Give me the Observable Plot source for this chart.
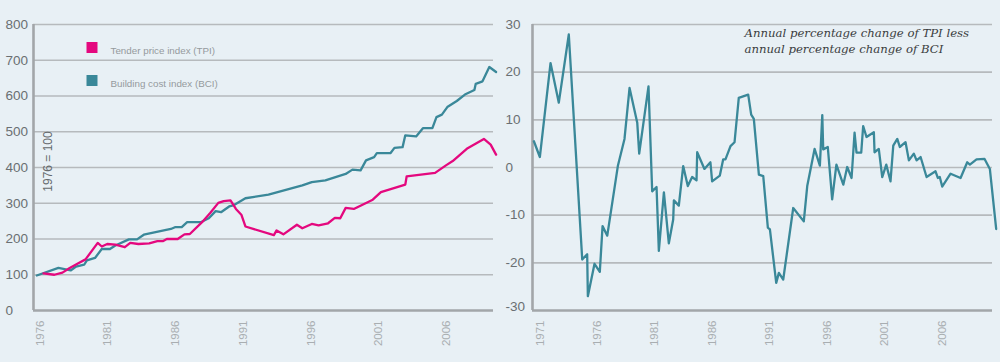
<!DOCTYPE html>
<html>
<head>
<meta charset="utf-8">
<script src="https://cdn.jsdelivr.net/npm/d3@7"></script>
<script src="https://cdn.jsdelivr.net/npm/@observablehq/plot@0.6"></script>
<style>
  html, body { margin: 0; padding: 0; background: #e8f0f5; }
  #wrap { display: flex; width: 1000px; height: 362px; background: #e8f0f5; }
  #wrap svg { display: block; }
</style>
</head>
<body>
<div id="wrap"><div id="left"></div><div id="right"></div></div>
<script>
// ---------- Data ----------
const bciYear = [1976.0,1977.6,1978.5,1978.9,1979.5,1979.7,1980.3,1980.8,1981.4,1981.8,1982.8,1983.4,1983.9,1985.9,1986.2,1986.7,1987.1,1988.1,1988.7,1989.2,1989.6,1990.2,1990.5,1991.4,1993.1,1995.6,1996.3,1997.3,1998.8,1999.3,1999.9,2000.3,2000.9,2001.1,2002.1,2002.4,2003.0,2003.2,2004.0,2004.5,2005.2,2005.5,2005.9,2006.3,2007.0,2007.6,2008.3,2008.4,2008.9,2009.4,2009.9];
const bciValue = [98,119,112,123,128,140,147,172,172,182,199,199,212,228,233,233,247,247,258,278,275,291,294,314,324,350,359,364,382,394,392,420,429,440,440,455,457,490,487,510,510,541,548,569,586,604,617,634,641,681,667];

const tpiYear = [1976.5,1977.3,1977.9,1978.4,1979.0,1979.6,1980.5,1980.8,1981.2,1981.8,1982.5,1982.9,1983.5,1984.3,1984.9,1985.3,1985.6,1986.4,1986.9,1987.3,1988.2,1988.8,1989.4,1989.8,1990.3,1990.7,1991.1,1991.4,1993.5,1993.7,1994.2,1995.2,1995.6,1996.3,1996.8,1997.5,1998.0,1998.4,1998.8,1999.4,2000.8,2001.4,2003.2,2003.3,2005.4,2006.2,2006.7,2007.8,2009.0,2009.5,2009.9];
const tpiValue = [104,100,106,118,131,143,189,179,186,184,177,189,186,188,194,194,200,200,213,214,247,273,301,306,308,284,268,235,211,224,213,240,230,242,238,244,259,258,287,284,310,331,352,375,385,406,418,454,480,464,436];

const diffYear = [1970.16,1970.68,1971.61,1972.33,1973.2,1974.37,1974.8,1974.86,1975.44,1975.9,1976.14,1976.55,1977.47,1978.05,1978.49,1979.16,1979.33,1980.14,1980.46,1980.84,1981.04,1981.48,1981.91,1982.29,1982.35,1982.78,1983.16,1983.56,1983.94,1984.32,1984.38,1985.01,1985.53,1985.68,1986.35,1986.64,1986.84,1987.28,1987.63,1988.0,1988.82,1989.08,1989.31,1989.75,1990.13,1990.53,1990.71,1991.26,1991.49,1991.87,1992.74,1993.66,1993.96,1994.6,1995.06,1995.27,1995.35,1995.75,1996.13,1996.5,1997.1,1997.44,1997.82,1998.08,1998.25,1998.66,1998.83,1999.12,1999.76,1999.82,2000.19,2000.49,2000.84,2001.21,2001.45,2001.8,2002.02,2002.52,2002.81,2003.24,2003.48,2003.83,2004.35,2005.13,2005.33,2005.5,2005.71,2006.44,2007.31,2007.89,2008.12,2008.7,2009.4,2009.86,2010.41];
const diffValue = [5.5,2.2,21.9,13.6,27.9,-19.3,-18.2,-27.0,-20.2,-21.9,-12.3,-14.3,0.3,6.0,16.7,9.4,2.9,17.0,-5.0,-4.1,-17.5,-5.2,-15.9,-10.9,-6.9,-8.0,0.3,-3.9,-2.0,-2.7,3.2,-0.3,1.1,-2.9,-1.7,1.7,1.7,4.5,5.3,14.6,15.3,11.1,10.2,-1.5,-1.8,-12.6,-13.0,-24.2,-22.1,-23.5,-8.5,-11.3,-3.9,3.9,0.4,11.0,3.8,4.3,-6.7,0.6,-3.6,0.1,-2.2,7.3,3.1,3.1,8.7,6.4,7.4,3.2,3.9,-2.0,0.6,-2.9,4.6,6.0,4.3,5.3,1.5,2.9,1.5,2.2,-2.0,-0.8,-2.2,-2.0,-4.0,-1.3,-2.2,1.1,0.6,1.7,1.8,-0.3,-12.9];

const leftYTicks = [0,100,200,300,400,500,600,700,800];
const leftXTicks = [1976,1981,1986,1991,1996,2001,2006];
const rightYTicks = [-30,-20,-10,0,10,20,30];
const rightXTicks = [1971,1976,1981,1986,1991,1996,2001,2006];

const legendLabels = ["Tender price index (TPI)", "Building cost index (BCI)"];
const annotation = "Annual percentage change of TPI less\nannual percentage change of BCI";
const unitLabel = "1976 = 100";

// ---------- Styles ----------
const PINK = "#e4087e";
const TEAL = "#3a8899";
const GRID = "#b6babd";
const AXIS = "#a2a6a9";
const YLAB = "#6a6f72";
const XLAB = "#a9aeb1";
const FONT = "Liberation Sans, Arial, sans-serif";

const bci = bciYear.map((x, i) => ({x, y: bciValue[i]}));
const tpi = tpiYear.map((x, i) => ({x, y: tpiValue[i]}));
const diff = diffYear.map((x, i) => ({x, y: diffValue[i]}));

const common = {
  width: 500, height: 362,
  marginTop: 24, marginBottom: 52,
  style: {background: "transparent", fontFamily: FONT, overflow: "visible"}
};

// ---------- Left panel ----------
const leftX = [1975.76, 2009.71];
const left = Plot.plot({
  ...common,
  marginLeft: 33, marginRight: 7,
  x: {domain: leftX, axis: null},
  y: {domain: [0, 800], axis: null},
  marks: [
    Plot.ruleY(leftYTicks.filter(d => d > 0), {stroke: GRID, strokeWidth: 1.6}),
    Plot.ruleY([0], {stroke: AXIS, strokeWidth: 2.6}),
    Plot.ruleX([leftX[0]], {stroke: AXIS, strokeWidth: 2.6}),
    Plot.line(bci, {x: "x", y: "y", stroke: TEAL, strokeWidth: 2.3, clip: false}),
    Plot.line(tpi, {x: "x", y: "y", stroke: PINK, strokeWidth: 2.3, clip: false}),
    Plot.text(leftYTicks, {y: d => d, text: d => String(d), frameAnchor: "left", textAnchor: "start", dx: -28, fontSize: 13.5, fill: YLAB}),
    Plot.text(leftXTicks, {x: d => d + 0.5, text: d => String(d), frameAnchor: "bottom", rotate: -90, textAnchor: "end", dy: 10, fontSize: 11.5, fill: XLAB}),
    Plot.text([unitLabel], {text: d => d, frameAnchor: "top-left", rotate: -90, textAnchor: "middle", dx: 10, dy: 137, fontSize: 12, fill: "#666b6e"}),
    Plot.dot([PINK], {frameAnchor: "top-left", dx: 58.5, dy: 23, symbol: "square", r: 6.2, fill: d => d}),
    Plot.dot([TEAL], {frameAnchor: "top-left", dx: 58.5, dy: 56, symbol: "square", r: 6.2, fill: d => d}),
    Plot.text([legendLabels[0]], {text: d => d, frameAnchor: "top-left", textAnchor: "start", dx: 77, dy: 23, fontSize: 9.8, fill: "#959a9d"}),
    Plot.text([legendLabels[1]], {text: d => d, frameAnchor: "top-left", textAnchor: "start", dx: 77, dy: 56, fontSize: 9.8, fill: "#959a9d"})
  ]
});
document.getElementById("left").append(left);

// ---------- Right panel ----------
const rightX = [1970.04, 2010.09];
const right = Plot.plot({
  ...common,
  marginLeft: 32, marginRight: 8,
  x: {domain: rightX, axis: null},
  y: {domain: [-30, 30], axis: null},
  marks: [
    Plot.ruleY(rightYTicks.filter(d => d > -30), {stroke: GRID, strokeWidth: 1.6}),
    Plot.ruleY([-30], {stroke: AXIS, strokeWidth: 2.6}),
    Plot.ruleX([rightX[0]], {stroke: AXIS, strokeWidth: 2.6}),
    Plot.line(diff, {x: "x", y: "y", stroke: TEAL, strokeWidth: 2.3, clip: false}),
    Plot.text(rightYTicks.filter(d => d > -30), {y: d => d, text: d => String(d), frameAnchor: "left", textAnchor: "start", dx: -27, fontSize: 13.5, fill: YLAB}),
    Plot.text(rightYTicks.filter(d => d === -30), {y: d => d, text: d => String(d), frameAnchor: "left", textAnchor: "start", dx: -27, dy: -4, fontSize: 13.5, fill: YLAB}),
    Plot.text(rightXTicks, {x: d => d, text: d => String(d), frameAnchor: "bottom", rotate: -90, textAnchor: "end", dy: 10, fontSize: 11.5, fill: XLAB}),
    Plot.text([annotation], {text: d => d, frameAnchor: "top-left", textAnchor: "start", lineAnchor: "middle", dx: 212, dy: 15, fontSize: 11.7, lineHeight: 1.37, fontStyle: "italic", fontFamily: "DejaVu Serif, serif", fill: "#3a3d40"})
  ]
});
document.getElementById("right").append(right);
</script>
</body>
</html>
